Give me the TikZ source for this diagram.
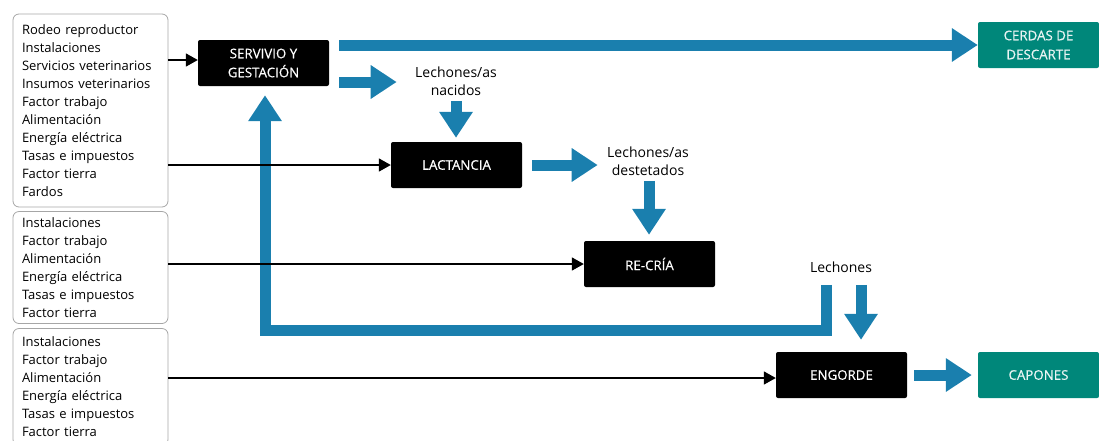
\documentclass[tikz,border=0pt]{standalone}
\usepackage{fontspec}
\setmainfont{Open Sans}
\newfontfamily\boxfont{Open Sans}[FakeBold=0.4]
\usetikzlibrary{arrows.meta,positioning}
\definecolor{flowblue}{HTML}{1A7FAE}
\definecolor{outteal}{HTML}{00877A}

\begin{document}
\begin{tikzpicture}[x=1pt,y=-1pt,
	inbox/.style={draw=gray!70, rounded corners=6pt, line width=0.8pt, align=left,
		text width=137pt, inner xsep=9pt, font=\fontsize{13}{18}\selectfont},
	stage/.style={fill=black, text=white, rounded corners=2pt, align=center,
		minimum width=131pt, minimum height=46pt, inner sep=0pt,
		font=\boxfont\fontsize{13.3}{19}\selectfont},
	outbox/.style={stage, fill=outteal, text=white!92!outteal, minimum width=121pt},
	lbl/.style={align=center, font=\fontsize{14}{18}\selectfont},
	flow/.style={draw=flowblue, line width=11pt, -{Triangle[length=26pt,width=32pt]}},
	feed/.style={draw=black, line width=1.6pt, -{Triangle[length=12pt,width=13pt]}}]
	\useasboundingbox (0,0) rectangle (1099,440);
	
	% inputs
	\node[inbox, minimum height=193pt] (in1) at (90.5,110.5) {Rodeo reproductor\\Instalaciones\\Servicios veterinarios\\Insumos veterinarios\\Factor trabajo\\Alimentación\\Energía eléctrica\\Tasas e impuestos\\Factor tierra\\Fardos};
	\node[inbox, minimum height=112pt] (in2) at (90.5,267.5) {Instalaciones\\Factor trabajo\\Alimentación\\Energía eléctrica\\Tasas e impuestos\\Factor tierra};
	\node[inbox, minimum height=117pt] (in3) at (90.5,387) {Instalaciones\\Factor trabajo\\Alimentación\\Energía eléctrica\\Tasas e impuestos\\Factor tierra};
	
	% stages
	\node[stage] (serv) at (263.5,63) {SERVIVIO Y\\GESTACIÓN};
	\node[stage] (lact) at (456.5,165) {LACTANCIA};
	\node[stage] (recria) at (649.5,264) {RE-CRÍA};
	\node[stage] (engorde) at (841.5,375) {ENGORDE};
	\node[outbox] (cerdas) at (1038.5,45) {CERDAS DE\\DESCARTE};
	\node[outbox] (capones) at (1038.5,375) {CAPONES};
	
	% products
	\node[lbl] (nac) at (456,81) {Lechones/as\\nacidos};
	\node[lbl] (dest) at (648,161) {Lechones/as\\destetados};
	\node[lbl] (lech) at (841,267) {Lechones};
	\coordinate (turn) at (265,330);
	
	\draw[flow, shorten <=10pt] (serv.east |- cerdas) -- (cerdas.west);
	\draw[flow, shorten <=10pt, shorten >=15pt] ([yshift=-19pt]serv.east) -- (nac.west |- 0,82);
	\draw[flow, shorten <=2pt, shorten >=4pt] (nac.south) -- (nac.south |- lact.north);
	\draw[flow, shorten <=10pt, shorten >=6pt] (lact.east) -- (dest.west |- lact);
	\draw[flow, shorten <=2pt, shorten >=6pt] ([xshift=1pt]dest.south) -- ([xshift=1pt]dest.south |- recria.north);
	\draw[flow, shorten <=9pt, shorten >=9pt] ([xshift=-15pt]lech.south) |- (turn) -- (turn |- serv.south);
	\draw[flow, shorten <=9pt, shorten >=12pt] ([xshift=20pt]lech.south) -- ([xshift=20pt]lech.south |- engorde.north);
	\draw[flow, shorten <=7pt, shorten >=6pt] (engorde.east) -- (capones.west);
	
	\draw[feed] (in1.east |- 0,60) -- (serv.west |- 0,60);
	\draw[feed] (in1.east |- lact) -- (lact.west);
	\draw[feed] (in2.east |- recria) -- (recria.west);
	\draw[feed] (in3.east |- 0,378) -- (engorde.west |- 0,378);
\end{tikzpicture}
\end{document}
